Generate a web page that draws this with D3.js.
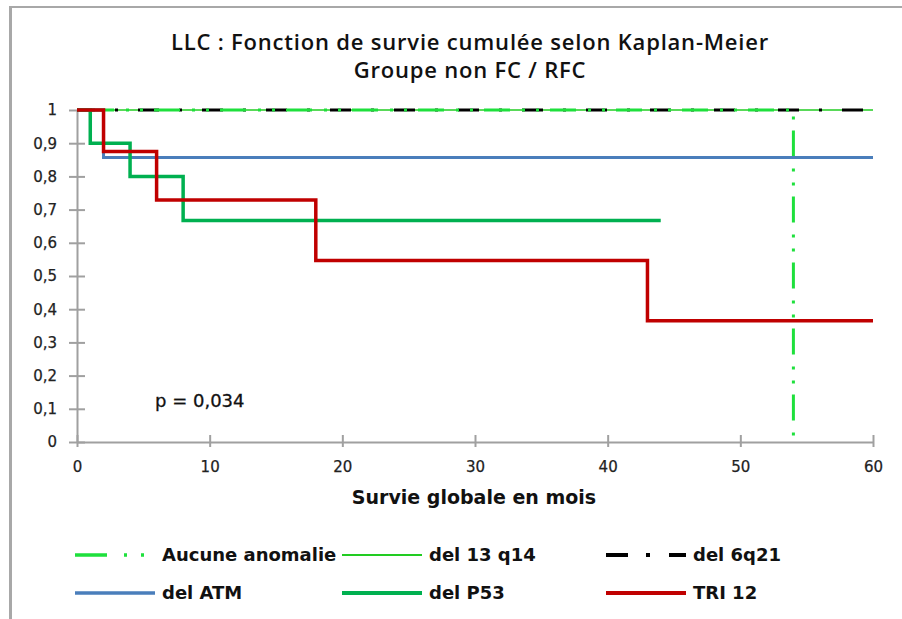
<!DOCTYPE html>
<html>
<head>
<meta charset="utf-8">
<script src="https://cdn.jsdelivr.net/npm/d3@7"></script>
<style>
  html, body { margin: 0; padding: 0; background: #ffffff; }
  svg { display: block; }
</style>
</head>
<body>
<svg id="chart" width="902" height="619"></svg>
<script>
// Kaplan-Meier cumulative survival, LLC, non FC / RFC group
const titleLines = ["LLC : Fonction de survie cumulée selon Kaplan-Meier", "Groupe non FC / RFC"];
const xTitle = "Survie globale en mois";
const pLabel = "p = 0,034";

const xTicks = [0, 10, 20, 30, 40, 50, 60];
const yTicks = [0, 0.1, 0.2, 0.3, 0.4, 0.5, 0.6, 0.7, 0.8, 0.9, 1];

// Step points [month, survival]; the last point marks the end of follow-up
const aucuneAnomalie = [[0, 1], [54, 0]];
const del13q14 = [[0, 1], [60, 1]];
const del6q21 = [[0, 1], [60, 1]];
const delATM = [[0, 1], [2, 0.857], [60, 0.857]];
const delP53 = [[0, 1], [1, 0.9], [4, 0.8], [8, 0.667], [44, 0.667]];
const tri12 = [[0, 1], [2, 0.875], [6, 0.729], [18, 0.547], [43, 0.365], [60, 0.365]];

const seriesNames = ["Aucune anomalie", "del 13 q14", "del 6q21", "del ATM", "del P53", "TRI 12"];

const svg = d3.select("#chart");
const W = 902, H = 619;
const margin = { left: 77, right: 29, top: 110, bottom: 177 };

const x = d3.scaleLinear().domain([0, 60]).range([margin.left, W - margin.right]);
const y = d3.scaleLinear().domain([0, 1]).range([H - margin.bottom, margin.top]);

// outer frame (left and top edges)
svg.append("line").attr("x1", 10.5).attr("x2", 10.5).attr("y1", 6).attr("y2", H)
  .attr("stroke", "#a8a8a8").attr("stroke-width", 3);
svg.append("line").attr("x1", 9).attr("x2", W).attr("y1", 7).attr("y2", 7)
  .attr("stroke", "#a8a8a8").attr("stroke-width", 2);

// title
svg.append("g").selectAll("text").data(titleLines).join("text")
  .attr("x", 470).attr("y", (d, i) => 42 + i * 28)
  .attr("text-anchor", "middle").attr("dy", "0.35em")
  .attr("font-family", "'Open Sans', sans-serif").attr("font-weight", 600)
  .attr("font-size", 22).attr("letter-spacing", 0.8).attr("fill", "#111")
  .text(d => d);

const fmt = v => d3.format(".1~f")(v).replace(".", ",");

// axes
const xAxis = svg.append("g").attr("transform", `translate(0,${y(0)})`)
  .call(d3.axisBottom(x).tickValues(xTicks).tickSizeInner(5).tickSizeOuter(0).tickPadding(14));
const yAxis = svg.append("g").attr("transform", `translate(${x(0)},0)`)
  .call(d3.axisLeft(y).tickValues(yTicks).tickFormat(fmt).tickSizeInner(8).tickSizeOuter(0).tickPadding(12));

[xAxis, yAxis].forEach(g => {
  g.select(".domain").attr("stroke", "#a0a0a0").attr("stroke-width", 2);
  g.selectAll(".tick line").attr("stroke", "#a0a0a0").attr("stroke-width", 2);
  g.selectAll(".tick text").attr("font-family", "'DejaVu Sans', sans-serif")
    .attr("font-size", 15).attr("fill", "#222")
    .attr("stroke", "#222").attr("stroke-width", 0.25);
});
// ticks cross the axis lines
xAxis.selectAll(".tick line").attr("y1", -7).attr("y2", 5);
yAxis.selectAll(".tick line").attr("x1", -8).attr("x2", 8);

// x-axis title
svg.append("text").attr("x", 474).attr("y", 497).attr("dy", "0.35em")
  .attr("text-anchor", "middle")
  .attr("font-family", "'DejaVu Sans', sans-serif").attr("font-weight", "bold")
  .attr("font-size", 19).attr("fill", "#111").text(xTitle);

// p-value
svg.append("text").attr("x", 155).attr("y", 401).attr("dy", "0.35em")
  .attr("font-family", "'DejaVu Sans', sans-serif")
  .attr("font-size", 18).attr("fill", "#111")
  .attr("stroke", "#111").attr("stroke-width", 0.3).text(pLabel);

// curves
const line = d3.line().x(d => x(d[0])).y(d => y(d[1])).curve(d3.curveStepAfter);

const styles = {
  "Aucune anomalie": { color: "#1ee03c", width: 3, dash: "26,12,3,11,3,11", offset: 55, legendDash: "32,17,3,14,3,14" },
  "del 13 q14": { color: "#22cc22", width: 1.6, dash: null, legendWidth: 2 },
  "del 6q21": { color: "#000000", width: 3, dash: "21,20,3,20", offset: 3, legendDash: "22,18,4,19", legendWidth: 4 },
  "del ATM": { color: "#4a7ebb", width: 3, dash: null },
  "del P53": { color: "#00b050", width: 3.5, dash: null },
  "TRI 12": { color: "#c00000", width: 3.5, dash: null }
};

const seriesData = {
  "Aucune anomalie": aucuneAnomalie,
  "del 13 q14": del13q14,
  "del 6q21": del6q21,
  "del ATM": delATM,
  "del P53": delP53,
  "TRI 12": tri12
};

const drawOrder = ["del 13 q14", "del 6q21", "Aucune anomalie", "del ATM", "del P53", "TRI 12"];
const curves = svg.append("g");
drawOrder.forEach(name => {
  const s = styles[name];
  curves.append("path")
    .datum(seriesData[name])
    .attr("d", line)
    .attr("fill", "none")
    .attr("stroke", s.color)
    .attr("stroke-width", s.width)
    .attr("stroke-dasharray", s.dash)
    .attr("stroke-dashoffset", s.offset || 0)
    .attr("stroke-linejoin", "miter");
});

// legend
const legendCols = [75, 342, 606];
const legendRows = [555, 593];
const legend = svg.append("g");
seriesNames.forEach((name, i) => {
  const s = styles[name];
  const cx = legendCols[i % 3], cy = legendRows[Math.floor(i / 3)];
  legend.append("line")
    .attr("x1", cx).attr("x2", cx + 80).attr("y1", cy).attr("y2", cy)
    .attr("stroke", s.color)
    .attr("stroke-width", s.legendWidth || (s.width + 0.5))
    .attr("stroke-dasharray", s.legendDash || null);
  legend.append("text")
    .attr("x", cx + 87).attr("y", cy).attr("dy", "0.35em")
    .attr("font-family", "'DejaVu Sans', sans-serif").attr("font-weight", "bold")
    .attr("font-size", 18).attr("fill", "#111")
    .text(name);
});
</script>
</body>
</html>
